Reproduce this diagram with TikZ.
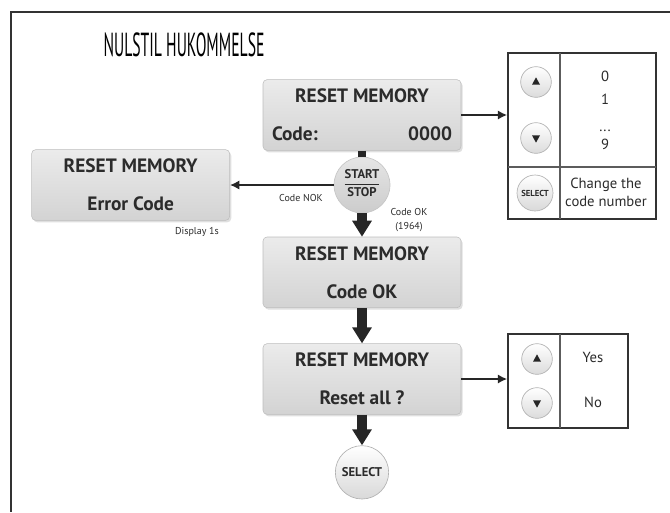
\documentclass[tikz,border=0pt]{standalone}
\usepackage{fontspec}
\setmainfont{PT Sans}
\usepackage{tikz}
\usetikzlibrary{arrows.meta,positioning,shadows}
\definecolor{lcdgraa}{HTML}{D3D3D3}
\definecolor{lcdlys}{HTML}{EBEBEB}
\definecolor{kant}{HTML}{BDBDBD}
\definecolor{tekst}{HTML}{2B2B2B}
\definecolor{linje}{HTML}{333333}

\begin{document}
\begin{tikzpicture}[x=0.75pt,y=-0.75pt,node distance=50pt,on grid,
        lcd/.style={rectangle,rounded corners=3pt,minimum width=148.5pt,minimum height=53pt,
            top color=lcdlys,bottom color=lcdgraa,draw=kant,line width=0.4pt,
            drop shadow={shadow xshift=1.2pt,shadow yshift=-1.5pt,opacity=0.25},
            text=tekst,font=\fontsize{14.5}{28.5}\selectfont\bfseries,align=center,inner sep=0pt},
        knap/.style={circle,minimum size=40pt,inner sep=0pt,top color=white,bottom color=gray!30,
            draw=gray!60,line width=0.5pt,text=tekst,font=\fontsize{9.5}{10}\selectfont\bfseries},
        knapgraa/.style={knap,minimum size=42pt,top color=gray!20,bottom color=gray!40,draw=gray!45},
        pil/.style={circle,minimum size=23pt,inner sep=0pt,top color=white,bottom color=gray!28,
            draw=gray!60,line width=0.5pt},
        blok/.style={draw=black!85,line width=6.8pt,-{Triangle[width=14pt,length=12pt]}},
        tynd/.style={draw=black!85,line width=1.8pt,-{Latex[length=7pt,width=7pt]}},
        tabel/.style={rectangle,draw=linje,line width=1.2pt,inner sep=0pt},
        skille/.style={draw=linje!80,line width=0.8pt},
        lille/.style={font=\fontsize{7.5}{10.5}\selectfont,text=tekst,align=center,inner sep=0pt},
        valg/.style={font=\fontsize{11}{13.5}\selectfont,text=tekst,align=center,inner sep=0pt}]
    \useasboundingbox (0,0) rectangle (670,512);
    \draw[linje,line width=1.5pt] (670,12) -- (11,12) -- (11,512);

    \node (titel) at (184,45) {\scalebox{0.47}[1]{\fontsize{25}{25}\selectfont NULSTIL HUKOMMELSE}};

    \node[lcd] (mem) at (362,115) {RESET MEMORY\\\makebox[135pt]{Code:\hfill 0000}};
    \node[knapgraa] (start) [below=52.5pt of mem]
        {{\setlength\arrayrulewidth{0.9pt}\begin{tabular}{@{}c@{}}START\\[1pt]\hline\rule{0pt}{8.5pt}STOP\end{tabular}}};
    \node[lcd] (fejl) [left=173.5pt of start] {RESET MEMORY\\Error Code};
    \node[lcd] (ok) [below=118pt of mem] {RESET MEMORY\\Code OK};
    \node[lcd] (reset) [below=80pt of ok] {RESET MEMORY\\Reset all ?};
    \node[knap] (sel) [below=70pt of reset] {SELECT};

    \node[lille] (nok) at (301,198) {Code NOK};
    \node[lille] (kodeok) at (409,220) {Code OK\\(1964)};
    \node[lille] (vis) at (197,232) {Display 1s};

    \node[tabel,minimum width=111pt,minimum height=124.5pt] (tab1) at (582,136) {};
    \draw[skille] (560,53) -- (560,219);
    \draw[skille] (508,167) -- (656,167);
    \node[pil] (op1) at (536,82) {};
    \node[pil] (ned1) at (536,138) {};
    \node[knap,minimum size=27pt,font=\fontsize{6.5}{7}\selectfont\bfseries] (sel1) at (535,193) {SELECT};
    \node[valg] (n0) at (605,76) {0};
    \node[valg] (n1) at (605,99) {1};
    \node[valg] (nx) at (605,131) {...};
    \node[valg] (n9) at (605,144) {9};
    \node[valg] (skift) at (606,192) {Change the\\code number};

    \node[tabel,minimum width=90pt,minimum height=70.5pt] (tab2) at (568,381) {};
    \draw[skille] (560,334) -- (560,428);
    \node[pil] (op2) at (537,359) {};
    \node[pil] (ned2) at (537,403) {};
    \node[valg] (ja) at (593,357) {Yes};
    \node[valg] (nej) at (593,402) {No};

    \foreach \k in {op1,op2}
        \fill[black!85] ([yshift=3.5pt]\k.center) -- ++(-3pt,-5.5pt) -- ++(6pt,0pt) -- cycle;
    \foreach \k in {ned1,ned2}
        \fill[black!85] ([yshift=-3.5pt]\k.center) -- ++(-3pt,5.5pt) -- ++(6pt,0pt) -- cycle;

    \draw[draw=black!85,line width=6pt] (mem.south) -- (start.north);
    \draw[tynd] (mem.east) -- (mem.east -| tab1.west);
    \draw[tynd] (start.west) -- (fejl.east);
    \draw[blok] (start.south) -- (ok.north);
    \draw[blok] (ok.south) -- (reset.north);
    \draw[tynd] (reset.east) -- (reset.east -| tab2.west);
    \draw[blok] (reset.south) -- (sel.north);
\end{tikzpicture}
\end{document}
